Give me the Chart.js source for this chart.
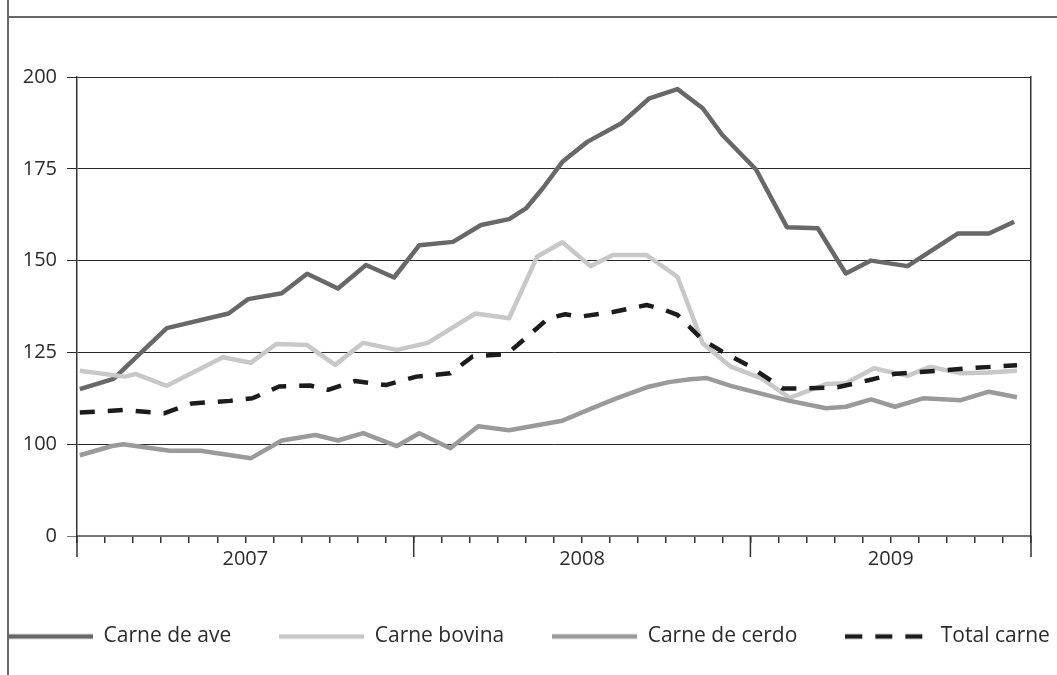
<!DOCTYPE html>
<html>
<head>
<meta charset="utf-8">
<script src="https://cdn.jsdelivr.net/npm/chart.js@4"></script>
<style>
  body { margin: 0; overflow: hidden; background: #fff; width: 1057px; height: 675px; position: relative; }
  #frameLeft { position: absolute; left: 7px; top: 0; width: 2px; height: 675px; background: #666; }
  #frameTop { position: absolute; left: 8px; top: 16px; width: 1049px; height: 2px; background: #666; }
  #wrap { position: absolute; left: -51px; top: 0; width: 1160px; height: 675px; }
</style>
</head>
<body>
<div id="frameLeft"></div>
<div id="frameTop"></div>
<div id="wrap"><canvas id="meatChart" width="1160" height="675"></canvas></div>
<script>
// x values are months counted from January 2007
const aveMonths = [0.1, 1.3, 3.2, 5.4, 6.1, 7.3, 8.2, 9.3, 10.3, 11.3, 12.2, 13.4, 14.4, 15.4, 16.0, 16.6, 17.3, 18.2, 19.4, 20.4, 21.4, 22.3, 23.0, 24.2, 25.3, 26.4, 27.4, 28.3, 29.6, 31.4, 32.5, 33.4];
const aveValues = [115.0, 117.8, 131.6, 135.6, 139.5, 141.1, 146.4, 142.4, 148.8, 145.4, 154.2, 155.1, 159.7, 161.3, 164.2, 169.7, 176.9, 182.4, 187.4, 194.2, 196.7, 191.5, 184.2, 174.8, 159.1, 158.8, 146.5, 150.0, 148.5, 157.4, 157.4, 160.6];

const bovinaMonths = [0.1, 1.7, 2.1, 3.2, 5.2, 6.2, 7.1, 8.2, 9.2, 10.2, 11.4, 12.5, 14.2, 15.4, 16.4, 17.3, 18.3, 19.1, 20.3, 21.4, 22.3, 23.3, 24.4, 25.4, 26.7, 27.4, 28.4, 29.6, 30.4, 31.5, 32.5, 33.5];
const bovinaValues = [120.0, 118.4, 119.1, 115.9, 123.7, 122.2, 127.3, 127.0, 121.6, 127.6, 125.7, 127.6, 135.6, 134.3, 151.1, 155.0, 148.5, 151.5, 151.5, 145.6, 127.5, 121.1, 117.9, 112.6, 116.4, 116.6, 120.7, 118.6, 121.1, 119.3, 119.5, 120.0];

const cerdoMonths = [0.1, 1.25, 1.65, 3.3, 4.4, 6.2, 7.3, 8.5, 9.3, 10.2, 11.4, 12.2, 13.3, 14.3, 15.4, 17.3, 18.3, 19.2, 20.3, 21.1, 21.85, 22.45, 23.3, 24.2, 25.4, 26.7, 27.4, 28.3, 29.15, 30.15, 31.5, 32.5, 33.5];
const cerdoValues = [97.0, 99.5, 100.0, 98.2, 98.2, 96.2, 101.0, 102.5, 101.0, 103.0, 99.5, 103.0, 98.9, 104.9, 103.8, 106.4, 109.6, 112.4, 115.5, 116.9, 117.7, 118.0, 115.9, 114.1, 111.8, 109.8, 110.2, 112.2, 110.2, 112.5, 112.0, 114.3, 112.8];

const totalMonths = [0.1, 1.65, 3.1, 4.1, 5.45, 6.25, 7.2, 8.3, 8.95, 9.9, 11.0, 12.1, 13.3, 14.1, 15.3, 15.7, 16.8, 17.4, 17.9, 19.1, 20.3, 20.9, 21.4, 22.3, 23.0, 24.0, 25.15, 25.95, 27.1, 28.25, 29.1, 30.65, 31.8, 33.5];
const totalValues = [108.6, 109.3, 108.4, 111.1, 111.8, 112.5, 115.7, 116.0, 114.8, 117.2, 116.1, 118.4, 119.3, 123.9, 124.5, 127.0, 134.3, 135.4, 134.7, 136.0, 137.9, 136.7, 135.2, 128.4, 125.2, 121.1, 115.2, 115.2, 115.5, 117.5, 119.1, 120.0, 120.7, 121.5];

const yearBounds = [0, 12, 24, 34];
const yearLabels = ['2007', '2008', '2009'];
const yearLabelMonths = [6, 18, 29];

// the axis is broken: its bottom (75) is labelled 0
const yTicks = [75, 100, 125, 150, 175, 200];
const yTickLabels = ['0', '100', '125', '150', '175', '200'];

const textColor = '#2b2b2b';
const tickFont = { family: 'Open Sans', size: 20 };

function points(months, values) {
    return months.map(function (m, i) {
        return { x: m, y: values[i] };
    });
}

// little line sample used as the legend symbol (keeps the dash pattern)
function swatch(color, dash) {
    const c = document.createElement('canvas');
    c.width = 85;
    c.height = 8;
    const g = c.getContext('2d');
    g.strokeStyle = color;
    g.lineWidth = 4.5;
    g.setLineDash(dash);
    g.beginPath();
    g.moveTo(0, 4);
    g.lineTo(85, 4);
    g.stroke();
    return c;
}

// longer tick marks at the year boundaries
const yearTicks = {
    id: 'yearTicks',
    afterDraw(chart) {
        const { ctx, chartArea, scales } = chart;
        ctx.save();
        ctx.strokeStyle = '#333';
        ctx.lineWidth = 1.5;
        yearBounds.forEach(function (m) {
            const x = scales.x.getPixelForValue(m);
            ctx.beginPath();
            ctx.moveTo(x, chartArea.bottom);
            ctx.lineTo(x, chartArea.bottom + 21);
            ctx.stroke();
        });
        ctx.restore();
    }
};

let ctx = document.getElementById('meatChart');
let meatChart = new Chart(ctx, {
    type: 'line',
    data: {
        datasets: [{
            label: 'Carne de ave',
            data: points(aveMonths, aveValues),
            borderColor: '#686868',
            order: 3
        }, {
            label: 'Carne bovina',
            data: points(bovinaMonths, bovinaValues),
            borderColor: '#c8c8c8',
            order: 2
        }, {
            label: 'Carne de cerdo',
            data: points(cerdoMonths, cerdoValues),
            borderColor: '#9a9a9a',
            order: 1
        }, {
            label: 'Total carne',
            data: points(totalMonths, totalValues),
            borderColor: '#1c1c1c',
            borderDash: [15, 13],
            order: 0
        }]
    },
    options: {
        responsive: false,
        animation: false,
        datasets: {
            line: {
                borderWidth: 4.5,
                pointRadius: 0,
                tension: 0,
                fill: false,
                borderJoinStyle: 'round',
                borderCapStyle: 'butt'
            }
        },
        layout: {
            padding: { left: 0, right: 0, top: 77, bottom: 18 }
        },
        scales: {
            x: {
                type: 'linear',
                min: 0,
                max: 34,
                grid: { drawOnChartArea: false, tickLength: 7, color: '#333', lineWidth: 1.5 },
                border: { color: '#777', width: 1.5 },
                ticks: {
                    stepSize: 1,
                    autoSkip: false,
                    maxRotation: 0,
                    padding: 4,
                    font: tickFont,
                    color: textColor,
                    callback: function (v) {
                        const i = yearLabelMonths.indexOf(v);
                        return i >= 0 ? yearLabels[i] : '';
                    }
                },
                afterFit(scale) { scale.height = 42; }
            },
            y: {
                min: 75,
                max: 200,
                ticks: {
                    stepSize: 25,
                    padding: 10,
                    font: tickFont,
                    color: textColor,
                    callback: function (v) {
                        return yTickLabels[yTicks.indexOf(v)];
                    }
                },
                grid: {
                    color: function (c) { return c.tick && c.tick.value === 75 ? '#777' : '#2a2a2a'; },
                    tickLength: 10,
                    lineWidth: 1
                },
                border: { color: '#333', width: 1.5 },
                afterFit(scale) { scale.width = 128; }
            },
            y2: {
                position: 'right',
                min: 0,
                max: 1,
                grid: { display: false },
                ticks: { display: false },
                border: { color: '#333', width: 1.5 },
                afterFit(scale) { scale.width = 78; }
            }
        },
        plugins: {
            legend: {
                position: 'bottom',
                labels: {
                    usePointStyle: true,
                    pointStyleWidth: 85,
                    padding: 48,
                    color: textColor,
                    font: { family: 'Open Sans', size: 21 },
                    generateLabels: function (chart) {
                        return chart.data.datasets.map(function (ds, i) {
                            return {
                                text: ds.label,
                                datasetIndex: i,
                                fontColor: textColor,
                                pointStyle: swatch(ds.borderColor, i === 3 ? [17, 13] : []),
                                hidden: false
                            };
                        });
                    }
                }
            },
            tooltip: { enabled: false }
        }
    },
    plugins: [yearTicks]
});
</script>
</body>
</html>
